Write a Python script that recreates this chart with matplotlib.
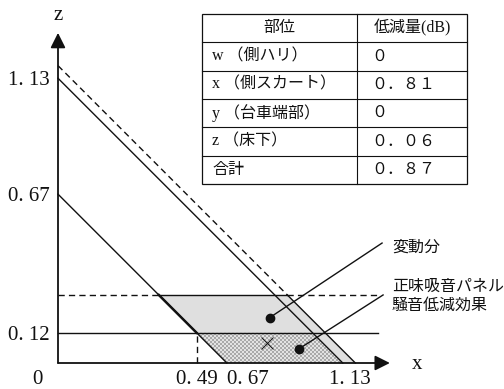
import numpy as np
import matplotlib.pyplot as plt
from matplotlib.colors import ListedColormap
from matplotlib.patches import Polygon, Rectangle

plt.rcParams['font.family'] = ['Liberation Serif', 'Noto Sans CJK JP']

# levels of the diagram (x + z = c for the diagonals)
z_lower = 0.67   # lower solid diagonal
z_upper = 1.13   # upper solid diagonal
z_shift = 1.18   # dashed diagonal (shifted)
z_floor = 0.12   # solid horizontal level
z_band = 0.27    # dashed horizontal level

z_tick_labels = ['0. 12', '0. 67', '1. 13']
x_tick_labels = ['0. 49', '0. 67', '1. 13']

parts = ['w （側ハリ）', 'x （側スカート）', 'y （台車端部）', 'z （床下）', '合計']
reduction_db = [0, 0.81, 0, 0.06, 0.87]

INK = '#111111'
S = 252.0          # pixels per unit
OX, OY = 58, 363   # origin in pixels
W, H = 504, 389

fig = plt.figure(figsize=(W / 100, H / 100), dpi=100)
ax = fig.add_axes([0, 0, 1, 1])
ax.set_xlim(-OX / S, (W - OX) / S)
ax.set_ylim(-(H - OY) / S, OY / S)
ax.axis('off')

# shaded regions
x_band_left = z_lower - z_band
x_band_right = z_shift - z_band
x_floor_left = z_lower - z_floor
x_floor_right = z_upper - z_floor

band = Polygon([(x_band_left, z_band), (x_band_right, z_band), (z_shift, 0), (z_lower, 0)],
               closed=True, facecolor='#dfdfdf', edgecolor='none', zorder=1)
ax.add_patch(band)

floor_patch = Polygon([(x_floor_left, z_floor), (x_floor_right, z_floor), (z_upper, 0), (z_lower, 0)],
                      closed=True, facecolor='none', edgecolor='none', zorder=2)
ax.add_patch(floor_patch)

# checkered fill for the net reduction area
cell = 2 / S
x0 = np.floor(x_floor_left * S) / S
nx = int(np.ceil((z_upper - x0) / cell)) + 1
ny = int(np.ceil(z_floor / cell)) + 1
yy, xx = np.indices((ny, nx))
checker = (xx + yy) % 2
im = ax.imshow(checker, cmap=ListedColormap(['#e2e2e2', '#a9a9a9']),
               extent=(x0, x0 + nx * cell, 0, ny * cell), origin='lower',
               interpolation='nearest', aspect='auto', zorder=2)
im.set_clip_path(floor_patch)

dash = (0, (4.5, 3))
lw = 1.0
right_end = 1.27

# diagonals
ax.plot([0, z_lower], [z_lower, 0], color=INK, lw=lw, zorder=3)
ax.plot([0, z_upper], [z_upper, 0], color=INK, lw=lw, zorder=3)
ax.plot([0, x_band_right], [z_shift, z_band], color=INK, lw=lw, ls=dash, zorder=3)
ax.plot([x_band_right, z_shift], [z_band, 0], color=INK, lw=lw, zorder=3)
ax.plot([x_band_left, x_floor_left], [z_band, z_floor], color=INK, lw=1.8, zorder=3)

# horizontals
ax.plot([0, right_end], [z_floor, z_floor], color=INK, lw=lw, zorder=3)
ax.plot([0, x_band_left], [z_band, z_band], color=INK, lw=lw, ls=dash, zorder=3)
ax.plot([x_band_left, x_band_right], [z_band, z_band], color=INK, lw=lw, zorder=3)
ax.plot([x_band_right, right_end], [z_band, z_band], color=INK, lw=lw, ls=dash, zorder=3)

# vertical guide
ax.plot([x_floor_left, x_floor_left], [0, z_floor], color=INK, lw=lw, ls=dash, zorder=3)

# axes with arrow heads
arrow = dict(arrowstyle='-|>,head_length=0.6,head_width=0.3', color=INK, lw=1.3,
             mutation_scale=15, shrinkA=0, shrinkB=0)
ax.annotate('', xy=(0, 1.31), xytext=(0, 0), arrowprops=arrow, zorder=4)
ax.annotate('', xy=(1.317, 0), xytext=(0, 0), arrowprops=arrow, zorder=4)
ax.text(0, 1.363, 'z', fontsize=15, ha='center', va='baseline', color=INK)
ax.text(1.425, -0.022, 'x', fontsize=15, ha='center', va='baseline', color=INK)

# tick labels
tick_fs = 15
base_x = -0.084
for val, lab in zip([z_floor, z_lower, z_upper], z_tick_labels):
    ax.text(-0.032, val - 0.027, lab, fontsize=tick_fs, ha='right', va='baseline', color=INK)
ax.text(-0.08, base_x, '0', fontsize=tick_fs, ha='center', va='baseline', color=INK)
ax.text(x_floor_left, base_x, x_tick_labels[0], fontsize=tick_fs, ha='center', va='baseline', color=INK)
ax.text(z_lower, base_x, x_tick_labels[1], fontsize=tick_fs, ha='left', va='baseline', color=INK)
ax.text(z_upper + 0.03, base_x, x_tick_labels[2], fontsize=tick_fs, ha='center', va='baseline', color=INK)

# callouts
ax.plot(0.83, 0.08, marker='x', ms=9, mew=0.7, color=INK, zorder=5)
callouts = [((0.84, 0.18), (1.286, 0.476)), ((0.956, 0.056), (1.29, 0.27))]
for (dx, dz), (ex, ez) in callouts:
    ax.plot([dx, ex], [dz, ez], color=INK, lw=1.0, zorder=5)
    ax.plot(dx, dz, 'o', ms=6, color=INK, zorder=6)
ax.text(1.325, 0.456, '変動分', fontsize=11.5, ha='left', va='center', color=INK)
ax.text(1.325, 0.302, '正味吸音パネル', fontsize=11.5, ha='left', va='center', color=INK)
ax.text(1.325, 0.226, '騒音低減効果', fontsize=11.5, ha='left', va='center', color=INK)

# reduction table
tax = fig.add_axes([202 / W, 1 - 184 / H, 265 / W, 170 / H])
tax.set_xlim(0, 1)
tax.set_ylim(len(parts) + 1, 0)
tax.axis('off')
col_split = 0.585
tax.add_patch(Rectangle((0, 0), 1, len(parts) + 1, facecolor='white', edgecolor=INK,
                        lw=0.9, clip_on=False))
for r in range(1, len(parts) + 1):
    tax.plot([0, 1], [r, r], color=INK, lw=0.8, clip_on=False)
tax.plot([col_split, col_split], [0, len(parts) + 1], color=INK, lw=0.8, clip_on=False)

to_wide = str.maketrans('0123456789.', '０１２３４５６７８９．')
fs = 11.5
tax.text(col_split / 2, 0.5, '部位', fontsize=fs, ha='center', va='center', color=INK)
tax.text((1 + col_split) / 2, 0.5, '低減量(dB)', fontsize=fs, ha='center', va='center', color=INK)
for i, (name, val) in enumerate(zip(parts, reduction_db), start=1):
    txt = '0' if val == 0 else f'{val:.2f}'
    tax.text(0.038, i + 0.5, name, fontsize=fs, ha='left', va='center', color=INK)
    tax.text(0.638, i + 0.5, txt.translate(to_wide), fontsize=fs, ha='left', va='center', color=INK)

fig.savefig('out.png', dpi=100)
